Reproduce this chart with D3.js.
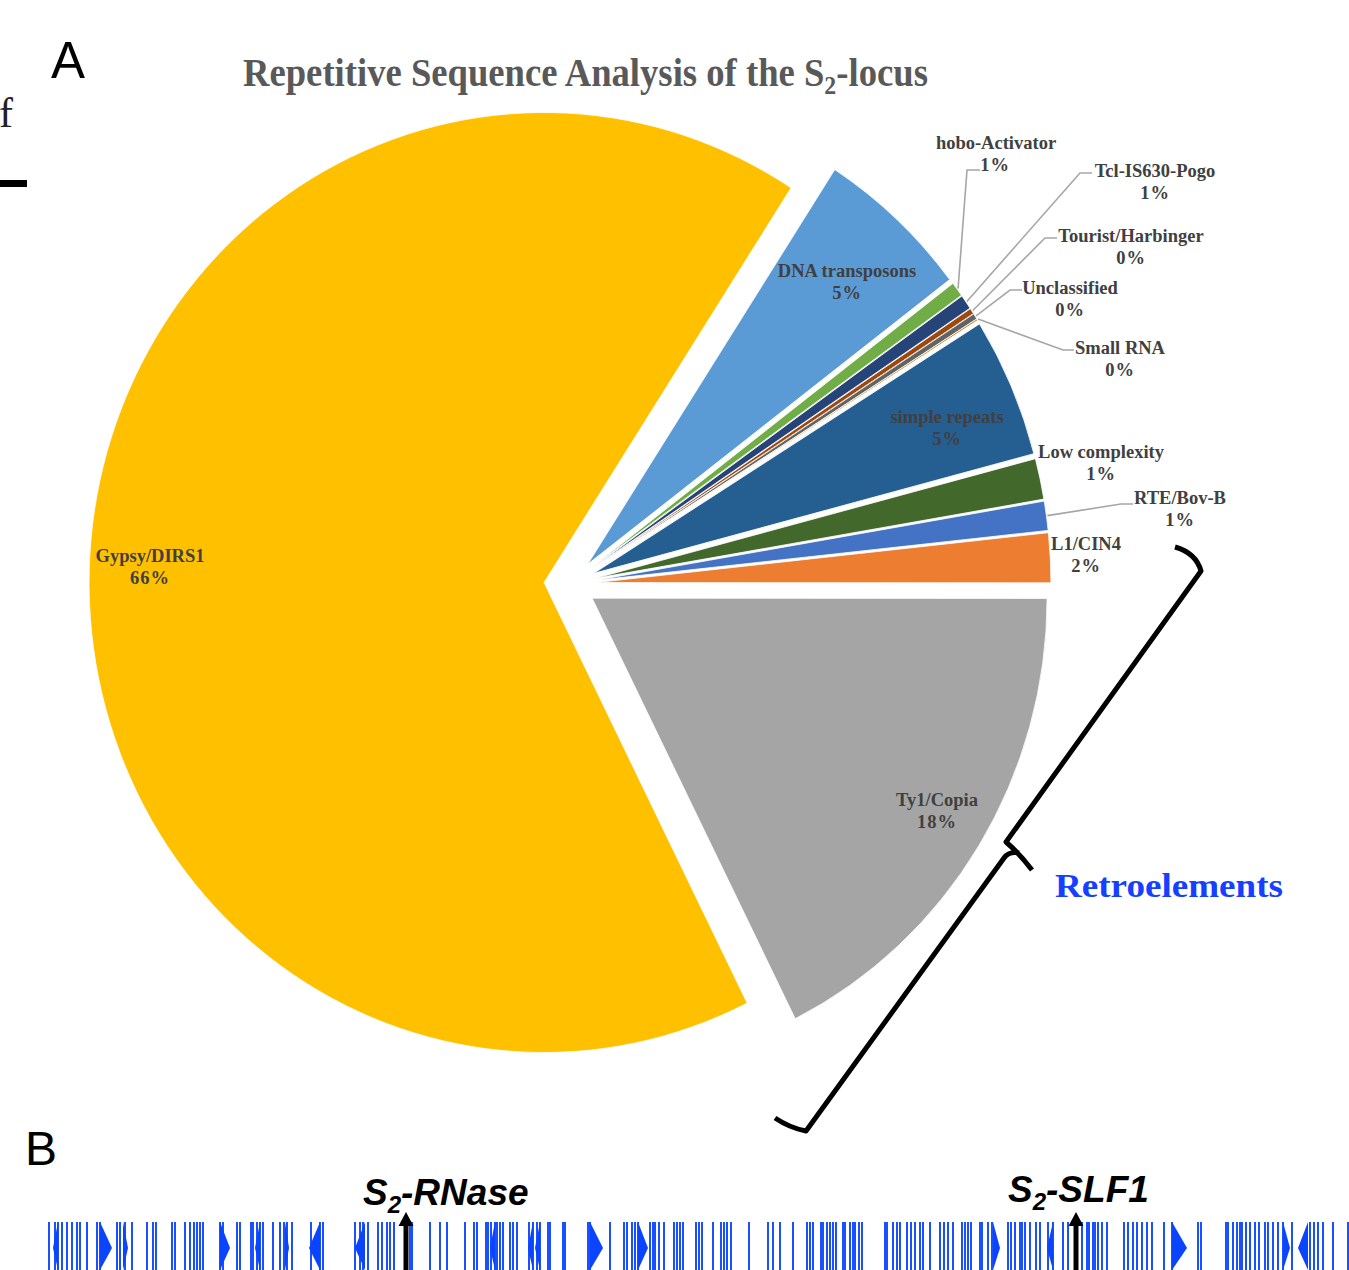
<!DOCTYPE html>
<html>
<head>
<meta charset="utf-8">
<script src="https://cdnjs.cloudflare.com/ajax/libs/d3/7.8.5/d3.min.js"></script>
<style>
  body { margin: 0; background: #fff; }
  svg { display: block; }
</style>
</head>
<body>
<svg id="chart" width="1349" height="1270"></svg>
<script>
// pie slices, in the order they go round clockwise
var categories = ["RTE/Bov-B", "L1/CIN4", "Ty1/Copia", "Gypsy/DIRS1", "DNA transposons",
  "hobo-Activator", "Tcl-IS630-Pogo", "Tourist/Harbinger", "Unclassified", "Small RNA",
  "simple repeats", "Low complexity"];
var shares = [1.0, 1.7, 17.6, 66.4, 5.5, 0.5, 0.5, 0.2, 0.2, 0.05, 4.8, 1.4];
var percentLabels = ["1%", "2%", "18%", "66%", "5%", "1%", "1%", "0%", "0%", "0%", "5%", "1%"];
var sliceColors = ["#4472c4", "#ed7d31", "#a5a5a5", "#ffc000", "#5b9bd5", "#70ad47",
  "#264478", "#9e480e", "#636363", "#997300", "#255e91", "#43682b"];

// gene track of the S2-locus (positions along the locus)
var trackLines = [0, 6, 9, 13, 18, 23, 28, 31, 38, 48, 51, 68, 71, 76, 83, 98, 104, 107, 123, 126,
  136, 141, 145, 148, 151, 154, 171, 174, 188, 191, 202, 204, 208, 211, 214, 224, 231, 235, 238,
  243, 262, 271, 274, 306, 311, 314, 319, 329, 333, 338, 341, 345, 361, 363, 381, 391, 398, 416,
  425, 428, 437, 439, 442, 446, 448, 451, 454, 461, 464, 468, 480, 484, 488, 491, 499, 501, 514,
  516, 539, 541, 561, 575, 578, 583, 586, 589, 601, 604, 606, 610, 615, 625, 628, 631, 634, 647,
  650, 653, 664, 672, 675, 678, 682, 700, 719, 724, 731, 744, 758, 761, 764, 772, 774, 778, 781,
  784, 787, 794, 796, 801, 804, 806, 810, 813, 836, 838, 844, 848, 851, 858, 862, 866, 871, 874,
  881, 891, 895, 899, 904, 913, 916, 919, 922, 931, 933, 939, 943, 959, 962, 966, 971, 973, 976,
  981, 987, 991, 999, 1004, 1014, 1019, 1033, 1038, 1040, 1044, 1046, 1049, 1053, 1058, 1075,
  1079, 1084, 1088, 1093, 1098, 1103, 1115, 1123, 1149, 1152, 1177, 1179, 1184, 1188, 1191, 1193,
  1197, 1201, 1206, 1210, 1216, 1219, 1224, 1229, 1234, 1243, 1261, 1265, 1269, 1274, 1284, 1299];
var forwardGenes = [[51, 63], [74, 79], [171, 181], [236, 240], [541, 554], [589, 599],
  [944, 951], [1123, 1138], [1234, 1241]];
var reverseGenes = [[4, 9], [206, 211], [260, 271], [306, 316], [441, 446], [479, 484],
  [486, 491], [998, 1004], [1249, 1259]];
var markedGenes = ["S\u2082-RNase", "S\u2082-SLF1"];
var markedPos = [357, 1027];

// layout
var pieCenter = [570, 584], pieR = 455, explode = 26, squash = 1.033;
var labelFont = "'Liberation Serif', 'Times New Roman', serif";
var labelLayout = {
  "Gypsy/DIRS1":       { x: 150, y: 556 },
  "DNA transposons":   { x: 847, y: 271 },
  "simple repeats":    { x: 947, y: 417 },
  "Ty1/Copia":         { x: 937, y: 800 },
  "Low complexity":    { x: 1101, y: 452 },
  "L1/CIN4":           { x: 1086, y: 544 },
  "RTE/Bov-B":         { x: 1180, y: 498, elbow: [1121, 504], end: [1133, 504] },
  "Small RNA":         { x: 1120, y: 348, elbow: [1063, 350], end: [1074, 350] },
  "Unclassified":      { x: 1070, y: 288, elbow: [1010, 290], end: [1022, 290] },
  "Tourist/Harbinger": { x: 1131, y: 236, elbow: [1045, 238], end: [1057, 238] },
  "Tcl-IS630-Pogo":    { x: 1155, y: 171, elbow: [1080, 173], end: [1092, 173] },
  "hobo-Activator":    { x: 996,  y: 143, elbow: [967, 170], end: [980, 170], pctX: 995 }
};

var svg = d3.select("#chart");

var a0 = 80.3 * Math.PI / 180;
var pie = d3.pie().sort(null).value(function(d) { return d; })
  .startAngle(a0).endAngle(a0 + 2 * Math.PI);
var arcs = pie(shares);
arcs.forEach(function(d, i) {
  d.name = categories[i];
  d.pct = percentLabels[i];
  d.color = sliceColors[i];
  d.mid = (d.startAngle + d.endAngle) / 2;
});

var arc = d3.arc().innerRadius(0).outerRadius(pieR);

var pieG = svg.append("g")
  .attr("transform", "translate(" + pieCenter[0] + "," + pieCenter[1] + ") scale(1," + squash + ")");

pieG.selectAll("path")
  .data(arcs)
  .enter().append("path")
  .attr("d", arc)
  .attr("fill", function(d) { return d.color; })
  .attr("stroke", "#fff")
  .attr("stroke-width", 0.8)
  .attr("transform", function(d) {
    return "translate(" + explode * Math.sin(d.mid) + "," + (-explode * Math.cos(d.mid)) + ")";
  });

// leader lines
function edgePoint(d) {
  var rr = explode + pieR + 1;
  return [pieCenter[0] + rr * Math.sin(d.mid), pieCenter[1] - rr * Math.cos(d.mid) * squash];
}
svg.append("g").selectAll("path")
  .data(arcs.filter(function(d) { return labelLayout[d.name].elbow; }))
  .enter().append("path")
  .attr("fill", "none")
  .attr("stroke", "#a6a6a6")
  .attr("stroke-width", 1.6)
  .attr("d", function(d) {
    var L = labelLayout[d.name];
    return d3.line()([edgePoint(d), L.elbow, L.end]);
  });

// slice labels
var lab = svg.append("g")
  .attr("font-family", labelFont)
  .attr("font-weight", "bold")
  .attr("font-size", 18.5)
  .attr("fill", "#404040")
  .attr("text-anchor", "middle");
arcs.forEach(function(d) {
  var L = labelLayout[d.name];
  lab.append("text").attr("x", L.x).attr("y", L.y + 6).text(d.name);
  lab.append("text").attr("x", L.pctX || L.x).attr("y", L.y + 28)
    .attr("letter-spacing", 1).text(d.pct);
});

// title
var title = svg.append("text")
  .attr("font-family", labelFont)
  .attr("font-weight", "bold")
  .attr("font-size", 40)
  .attr("fill", "#595959");
title.append("tspan").text("Repetitive Sequence Analysis of the S");
title.append("tspan").attr("font-size", 26).attr("dy", 8).text("2");
title.append("tspan").attr("dy", -8).text("-locus");
var tw = title.node().getComputedTextLength();
title.attr("transform", "translate(243,86) scale(" + (685 / tw) + ",1)");

// panel letters and cropped bits on the left edge
svg.append("text").attr("x", 51).attr("y", 78)
  .attr("font-family", "'Liberation Sans', Arial, sans-serif").attr("font-size", 51)
  .text("A");
svg.append("text").attr("x", 25).attr("y", 1165)
  .attr("font-family", "'Liberation Sans', Arial, sans-serif").attr("font-size", 48)
  .text("B");
svg.append("text").attr("x", -1).attr("y", 127)
  .attr("font-family", labelFont).attr("font-size", 42).attr("fill", "#222")
  .text("f");
svg.append("rect").attr("x", 0).attr("y", 180).attr("width", 27).attr("height", 7).attr("fill", "#000");

// brace for the retroelements
var brace = svg.append("g").attr("fill", "none").attr("stroke", "#000")
  .attr("stroke-width", 5).attr("stroke-linejoin", "round").attr("stroke-linecap", "butt");
brace.append("path").attr("d", "M1175,547 Q1196,553 1201,571 L1006,842 Q1019,853 1032,870");
brace.append("path").attr("d", "M1019,853 Q1009,851 1004,858 L806,1131 Q790,1128 775,1118");
svg.append("text").attr("x", 1055).attr("y", 897)
  .attr("font-family", labelFont).attr("font-weight", "bold").attr("font-size", 34)
  .attr("fill", "#1540ff").attr("textLength", 228).attr("lengthAdjust", "spacingAndGlyphs")
  .text("Retroelements");

// gene track
var x = d3.scaleLinear().domain([0, 1300]).range([49, 1349]);
var trackTop = 1222, trackBot = 1270, trackMid = 1248;
var track = svg.append("g");
track.selectAll("rect")
  .data(trackLines)
  .enter().append("rect")
  .attr("x", function(d) { return x(d) - 1; })
  .attr("y", trackTop)
  .attr("width", 2)
  .attr("height", trackBot - trackTop)
  .attr("fill", "#1a50ff");
track.selectAll("path.fwd")
  .data(forwardGenes)
  .enter().append("path")
  .attr("class", "fwd")
  .attr("fill", "#0a44ff")
  .attr("d", function(d) {
    return "M" + x(d[0]) + "," + trackTop + "L" + x(d[1]) + "," + trackMid + "L" + x(d[0]) + "," + trackBot + "Z";
  });
track.selectAll("path.rev")
  .data(reverseGenes)
  .enter().append("path")
  .attr("class", "rev")
  .attr("fill", "#0a44ff")
  .attr("d", function(d) {
    return "M" + x(d[1]) + "," + trackTop + "L" + x(d[0]) + "," + trackMid + "L" + x(d[1]) + "," + trackBot + "Z";
  });

// marked genes: arrow + italic name
var marks = svg.append("g").selectAll("g")
  .data(markedGenes)
  .enter().append("g");
marks.append("path")
  .attr("fill", "#000")
  .attr("d", function(d, i) {
    var cx = x(markedPos[i]);
    return "M" + cx + ",1212 L" + (cx + 7.5) + ",1226 L" + (cx + 2.5) + ",1226 L" + (cx + 2.5) + ",1270 L" +
      (cx - 2.5) + ",1270 L" + (cx - 2.5) + ",1226 L" + (cx - 7.5) + ",1226 Z";
  });
var mt = marks.append("text")
  .attr("x", function(d, i) { return x(markedPos[i]) - (i === 0 ? 43 : 68); })
  .attr("y", function(d, i) { return i === 0 ? 1205 : 1202; })
  .attr("font-family", "'Liberation Sans', Arial, sans-serif")
  .attr("font-weight", "bold").attr("font-style", "italic").attr("font-size", 37);
mt.append("tspan").text("S");
mt.append("tspan").attr("font-size", 24).attr("dy", 8).text("2");
mt.append("tspan").attr("dy", -8).text(function(d) { return "-" + d.split("-").slice(1).join("-"); });
</script>
</body>
</html>
